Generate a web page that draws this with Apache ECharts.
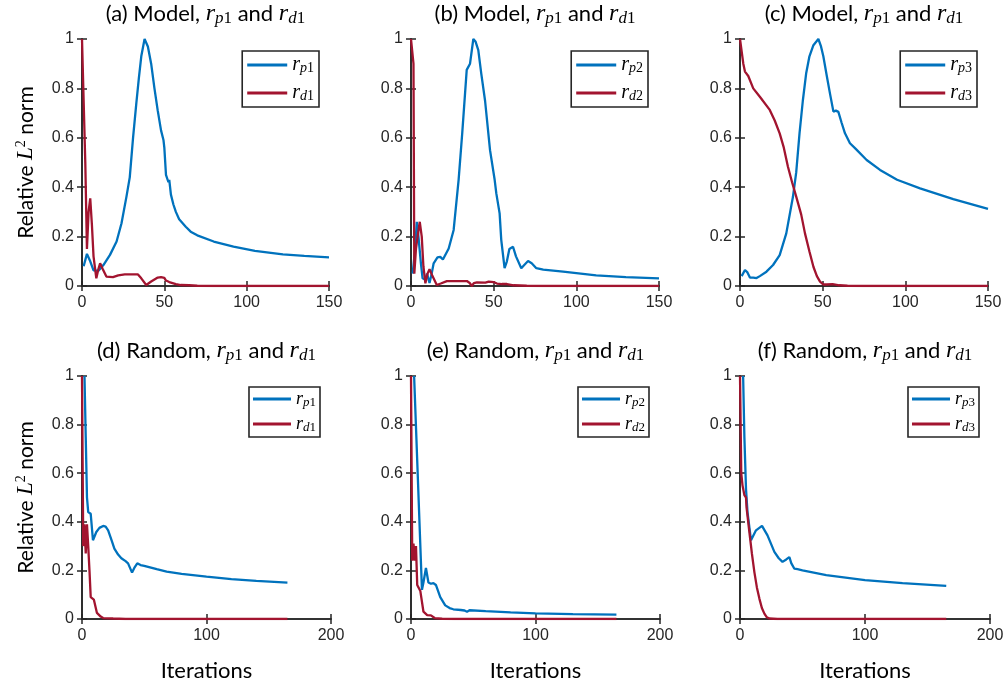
<!DOCTYPE html>
<html>
<head>
<meta charset="utf-8">
<script src="https://cdn.jsdelivr.net/npm/echarts@6/dist/echarts.min.js"></script>
<style>html,body{margin:0;padding:0;background:#fff}#c{width:1008px;height:688px}</style>
</head>
<body>
<div id="c"></div>
<script>
// ---------------- DATA ----------------
const titlesPanel = ['(a) Model, ', '(b) Model, ', '(c) Model, ', '(d) Random, ', '(e) Random, ', '(f) Random, '];
const legendSubs = [['p','d','1'],['p','d','2'],['p','d','3'],['p','d','1'],['p','d','2'],['p','d','3']];
const topXTicks = [0, 50, 100, 150];
const bottomXTicks = [0, 100, 200];
const yTicks = [0, 0.2, 0.4, 0.6, 0.8, 1];

const modelRp1 = [[1,0.08],[3,0.13],[5,0.1],[7,0.063],[10,0.062],[13,0.085],[17,0.126],[21,0.18],[24,0.254],[27,0.362],[29,0.44],[31,0.6],[33,0.74],[34.5,0.84],[36,0.93],[38,1.0],[40,0.97],[42,0.9],[44,0.8],[46,0.71],[48,0.63],[49.5,0.59],[50,0.56],[51,0.45],[52,0.45],[52.5,0.42],[53,0.43],[54,0.37],[55.5,0.33],[57,0.3],[59,0.27],[61,0.255],[63,0.24],[66,0.22],[70,0.205],[80,0.18],[92,0.159],[105,0.142],[122,0.128],[135,0.122],[150,0.116]];
const modelRd1 = [[0,1.0],[2,0.5],[3,0.15],[4,0.3],[5,0.355],[6,0.25],[7,0.12],[8.7,0.031],[10,0.07],[11,0.092],[12.5,0.07],[14.8,0.038],[18.8,0.036],[22,0.043],[26,0.047],[34,0.047],[36,0.031],[39,0.004],[42,0.018],[46,0.034],[48,0.036],[49,0.028],[50,0.033],[51,0.022],[52,0.026],[53,0.016],[55,0.012],[57,0.008],[60,0.004],[65,0.003],[70,0.001],[80,0],[150,0]];
const modelRp2 = [[1,0.05],[2.5,0.15],[3.5,0.26],[4.5,0.2],[6,0.092],[7,0.031],[8.5,0.026],[9.7,0.05],[11.2,0.012],[12.5,0.05],[13.7,0.092],[16,0.116],[17.7,0.118],[19.3,0.107],[22.8,0.152],[25.8,0.227],[28.8,0.43],[31,0.62],[33.7,0.875],[35.7,0.9],[37.7,1.0],[39,0.99],[40.7,0.955],[42.5,0.86],[44.8,0.75],[47.8,0.55],[50.6,0.43],[51.6,0.375],[53.6,0.294],[54.6,0.186],[56.6,0.072],[58,0.1],[59.5,0.15],[61.7,0.159],[63.5,0.12],[66.7,0.072],[68.5,0.085],[70.8,0.101],[73,0.092],[75.8,0.072],[80,0.066],[92,0.058],[112,0.043],[130,0.036],[150,0.031]];
const modelRd2 = [[0,1],[1.5,0.9],[2,0.05],[3,0.15],[4,0.2],[5.3,0.26],[6.5,0.2],[7.5,0.08],[8.7,0.011],[10,0.05],[11.2,0.068],[13,0.04],[15.6,0.004],[18,0.01],[21.7,0.02],[33.8,0.02],[35.5,0.012],[36.8,0.0],[38,0.012],[39.9,0.015],[45,0.014],[47,0.018],[48,0.01],[50,0.016],[52,0.01],[55,0.008],[58,0.008],[62,0.003],[70,0.001],[80,0],[150,0]];
const modelRp3 = [[1,0.04],[3,0.065],[4.5,0.055],[6,0.034],[8,0.034],[10,0.032],[12,0.04],[16,0.058],[20,0.085],[24,0.125],[28,0.213],[32,0.36],[34,0.46],[36,0.618],[38,0.75],[40,0.86],[42,0.93],[44.4,0.975],[47.4,1.0],[49,0.97],[50.4,0.93],[52.5,0.85],[54.4,0.78],[56.5,0.706],[58,0.71],[59.5,0.705],[61.5,0.66],[63.5,0.618],[66.5,0.578],[70,0.555],[76.6,0.51],[84.7,0.47],[95,0.43],[108.9,0.395],[129,0.352],[150,0.312]];
const modelRd3 = [[0,1],[1,0.95],[2,0.9],[3,0.868],[5,0.85],[8,0.8],[12,0.766],[18,0.713],[21,0.67],[24,0.618],[26.5,0.56],[29,0.483],[31.5,0.42],[34,0.362],[37,0.29],[39.3,0.213],[42,0.14],[44.4,0.078],[46.5,0.04],[48.4,0.018],[50.5,0.006],[52.5,0.006],[56,0.008],[60,0.003],[65,0.001],[75,0],[150,0]];
const randRp1 = [[2,1.0],[3,0.75],[4,0.5],[5,0.44],[7,0.433],[8.8,0.324],[11.5,0.358],[14,0.375],[17,0.383],[19,0.38],[21,0.365],[24,0.32],[26,0.29],[29,0.265],[31.6,0.25],[35,0.238],[37,0.229],[40.2,0.191],[42,0.21],[44.4,0.229],[47,0.222],[50,0.219],[60,0.205],[68,0.195],[80,0.186],[100,0.174],[120,0.164],[140,0.157],[165,0.15]];
const randRd1 = [[0,1],[1,0.3],[2,0.39],[3,0.27],[4,0.39],[5,0.3],[6,0.2],[7,0.09],[9.5,0.08],[12,0.025],[15,0.01],[17,0.004],[25,0.002],[35,0],[165,0]];
const randRp2 = [[2.5,1.0],[8.8,0.12],[10,0.15],[12,0.21],[14,0.15],[16,0.145],[18,0.148],[20,0.14],[23.5,0.09],[27.5,0.056],[31,0.045],[34,0.04],[40,0.037],[43,0.035],[45,0.03],[47,0.036],[60,0.032],[80,0.027],[100,0.023],[130,0.02],[165,0.018]];
const randRd2 = [[0,1],[1,0.24],[2,0.31],[3,0.24],[4,0.3],[5,0.14],[7.5,0.115],[10,0.03],[13,0.016],[16,0.015],[19,0.004],[25,0.001],[35,0],[165,0]];
const randRp3 = [[2.5,1.0],[3.5,0.75],[4.8,0.536],[6,0.44],[8.8,0.324],[12.8,0.365],[17.6,0.383],[22,0.344],[27.5,0.276],[31,0.25],[34,0.235],[37,0.245],[39.5,0.255],[41,0.23],[43.5,0.207],[46,0.205],[50,0.2],[69,0.181],[100,0.16],[130,0.148],[165,0.136]];
const randRd3 = [[0,1],[1,0.6],[2,0.55],[3.5,0.51],[4.8,0.5],[5.2,0.46],[7.5,0.358],[9.5,0.27],[11.5,0.193],[13.5,0.13],[15.5,0.084],[17.5,0.045],[19.5,0.022],[21.5,0.007],[23.5,0.002],[30,0],[165,0]];

const pData = [modelRp1, modelRp2, modelRp3, randRp1, randRp2, randRp3];
const dData = [modelRd1, modelRd2, modelRd3, randRd1, randRd2, randRd3];

// ---------------- LAYOUT / STYLE ----------------
const BLUE = '#0072BD', RED = '#A2142F', AX = '#262626';
const grids = [
  {left: 82, top: 39, width: 247, height: 247},
  {left: 411, top: 39, width: 248, height: 247},
  {left: 740, top: 39, width: 248, height: 247},
  {left: 82, top: 376, width: 249, height: 243},
  {left: 411, top: 376, width: 249, height: 243},
  {left: 740, top: 376, width: 250, height: 243}
];
const legendPos = [
  {right: 689, top: 51}, {right: 360, top: 51}, {right: 31, top: 51},
  {right: 688, top: 387}, {right: 359, top: 387}, {right: 29, top: 387}
];
const sansTitle = 'Lato';
const serif = 'Liberation Serif';
const titleRich = {
  n: {fontFamily: sansTitle, fontWeight: 'normal', fontSize: 22, color: '#000', lineHeight: 27},
  r: {fontFamily: serif, fontWeight: 'normal', fontStyle: 'italic', fontSize: 24, color: '#000', lineHeight: 27},
  s: {fontFamily: serif, fontWeight: 'normal', fontStyle: 'italic', fontSize: 17, color: '#000', lineHeight: 13, verticalAlign: 'bottom'},
  t: {fontFamily: serif, fontWeight: 'normal', fontSize: 17, color: '#000', lineHeight: 13, verticalAlign: 'bottom'}
};
const legRich = (big) => ({
  r: {fontFamily: serif, fontStyle: 'italic', fontSize: big ? 20 : 18, color: '#000', lineHeight: 20},
  s: {fontFamily: serif, fontStyle: 'italic', fontSize: big ? 14 : 13, color: '#000', lineHeight: 10, verticalAlign: 'bottom'},
  t: {fontFamily: serif, fontSize: big ? 14 : 13, color: '#000', lineHeight: 10, verticalAlign: 'bottom'}
});

const option = {
  animation: false,
  backgroundColor: '#fff',
  title: [], grid: [], xAxis: [], yAxis: [], series: [], legend: []
};

for (let i = 0; i < 6; i++) {
  const g = grids[i];
  const isTop = i < 3;
  option.grid.push({left: g.left, top: g.top, width: g.width, height: g.height, containLabel: false});
  option.title.push({
    text: '{n|' + titlesPanel[i] + '}{r|r}{s|p}{t|1}{n| and }{r|r}{s|d}{t|1}',
    left: g.left + g.width / 2,
    top: isTop ? 0 : 337,
    textAlign: 'center',
    padding: 0,
    textStyle: {fontWeight: 'normal', rich: titleRich}
  });
  const xmax = isTop ? 150 : 200, xint = isTop ? 50 : 100;
  const axLine = {show: true, lineStyle: {color: AX, width: 1.6}};
  const tick = {show: true, inside: true, length: 5, lineStyle: {color: AX, width: 1.5}};
  option.xAxis.push({
    type: 'value', gridIndex: i, position: 'bottom', min: 0, max: xmax, interval: xint,
    axisLine: axLine, axisTick: tick, splitLine: {show: false},
    axisLabel: {color: AX, fontFamily: 'Liberation Sans', fontSize: 16, margin: 9},
    name: isTop ? '' : 'Iterations', nameLocation: 'middle', nameGap: 41,
    nameTextStyle: {fontFamily: sansTitle, fontSize: 22, color: '#000'}
  });
  option.xAxis.push({
    type: 'value', gridIndex: i, position: 'top', min: 0, max: xmax, interval: xint,
    axisLine: axLine, axisTick: tick, splitLine: {show: false}, axisLabel: {show: false}
  });
  option.yAxis.push({
    type: 'value', gridIndex: i, position: 'left', min: 0, max: 1, interval: 0.2,
    axisLine: axLine, axisTick: tick, splitLine: {show: false},
    axisLabel: {color: AX, fontFamily: 'Liberation Sans', fontSize: 16, margin: 8},
    name: (i % 3 === 0) ? 'Relative {L|L}{sup|2} norm' : '', nameLocation: 'middle', nameGap: 44,
    nameTextStyle: {fontFamily: sansTitle, fontSize: 21, color: '#000', rich: {
      L: {fontFamily: serif, fontStyle: 'italic', fontSize: 23, color: '#000', lineHeight: 24},
      sup: {fontFamily: serif, fontSize: 14, color: '#000', lineHeight: 12, verticalAlign: 'top'}
    }}
  });
  option.yAxis.push({
    type: 'value', gridIndex: i, position: 'right', min: 0, max: 1, interval: 0.2,
    axisLine: axLine, axisTick: tick, splitLine: {show: false}, axisLabel: {show: false}
  });
  const pName = 'p' + i, dName = 'd' + i;
  option.series.push({
    name: pName, type: 'line', xAxisIndex: 2 * i, yAxisIndex: 2 * i, data: pData[i],
    showSymbol: false, symbol: 'none', lineStyle: {color: BLUE, width: 2.3}, itemStyle: {color: BLUE}, z: 2
  });
  option.series.push({
    name: dName, type: 'line', xAxisIndex: 2 * i, yAxisIndex: 2 * i, data: dData[i],
    showSymbol: false, symbol: 'none', lineStyle: {color: RED, width: 2.3}, itemStyle: {color: RED}, z: 3
  });
  const subs = legendSubs[i];
  option.legend.push({
    data: [pName, dName], orient: 'vertical', right: legendPos[i].right, top: legendPos[i].top,
    backgroundColor: '#fff', borderColor: AX, borderWidth: 1.6, borderRadius: 0,
    padding: isTop ? [4, 5, 4, 5] : [3, 4, 3, 4], itemGap: isTop ? 8 : 6,
    itemWidth: isTop ? 40 : 38, itemHeight: 3, icon: 'rect', selectedMode: false,
    formatter: (n) => '{r|r}{s|' + (n === pName ? subs[0] : subs[1]) + '}{t|' + subs[2] + '}',
    textStyle: {rich: legRich(isTop)}
  });
}

const chart = echarts.init(document.getElementById('c'), null, {renderer: 'canvas'});
chart.setOption(option);
</script>
</body>
</html>
